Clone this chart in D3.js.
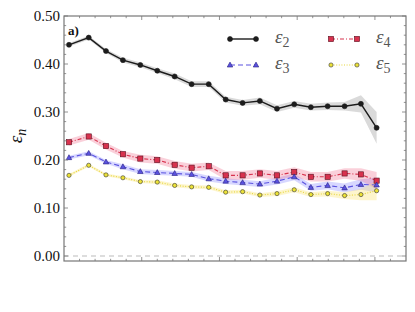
<!DOCTYPE html>
<html>
<head>
<meta charset="utf-8">
<script src="https://cdn.jsdelivr.net/npm/d3@7"></script>
<style>
  body { margin: 0; background: #fff; }
  svg { display: block; }
</style>
</head>
<body>
<div class="Canvas"></div>
<script>
// x positions of the centrality bins (in axis tick units)
const xVals = [0.32, 1.59, 2.70, 3.79, 4.91, 6.0, 7.12, 8.21, 9.31, 10.40, 11.49, 12.60, 13.70, 14.81, 15.88, 16.96, 18.05, 19.10, 20.11];

const eps2 = [0.440, 0.455, 0.427, 0.408, 0.398, 0.386, 0.374, 0.358, 0.358, 0.326, 0.319, 0.323, 0.307, 0.316, 0.310, 0.312, 0.312, 0.317, 0.267];
const eps3 = [0.205, 0.214, 0.196, 0.186, 0.176, 0.174, 0.172, 0.170, 0.161, 0.156, 0.153, 0.150, 0.156, 0.165, 0.143, 0.147, 0.142, 0.149, 0.148];
const eps4 = [0.237, 0.249, 0.229, 0.212, 0.203, 0.200, 0.190, 0.184, 0.187, 0.168, 0.168, 0.172, 0.168, 0.175, 0.165, 0.165, 0.172, 0.170, 0.157];
const eps5 = [0.168, 0.189, 0.169, 0.163, 0.155, 0.154, 0.147, 0.144, 0.143, 0.133, 0.134, 0.127, 0.130, 0.138, 0.128, 0.130, 0.126, 0.128, 0.136];

// uncertainty half-widths for the shaded bands
const err2 = [0.004, 0.004, 0.004, 0.005, 0.005, 0.005, 0.006, 0.006, 0.006, 0.006, 0.006, 0.007, 0.007, 0.007, 0.007, 0.008, 0.009, 0.018, 0.033];
const err3 = [0.004, 0.004, 0.004, 0.005, 0.005, 0.005, 0.005, 0.005, 0.006, 0.006, 0.006, 0.006, 0.007, 0.007, 0.007, 0.008, 0.009, 0.011, 0.015];
const err4 = [0.007, 0.007, 0.007, 0.007, 0.008, 0.008, 0.008, 0.008, 0.008, 0.009, 0.009, 0.009, 0.009, 0.010, 0.010, 0.010, 0.011, 0.013, 0.018];
const err5 = [0.003, 0.003, 0.003, 0.003, 0.003, 0.004, 0.004, 0.004, 0.004, 0.004, 0.004, 0.004, 0.005, 0.005, 0.005, 0.006, 0.007, 0.012, 0.020];

const yTicks = [0.0, 0.1, 0.2, 0.3, 0.4, 0.5];

const width = 415;
const height = 312;
const margin = { left: 64, right: 9, top: 16, bottom: 51 };
const serif = 'Liberation Serif';

const series = [
  { key: '2', values: eps2, err: err2, color: '#1c1c1c', band: 'rgba(150,150,150,0.35)', dash: null, marker: 'circle', fill: '#1c1c1c', width: 1.4 },
  { key: '3', values: eps3, err: err3, color: '#5a52e0', band: 'rgba(110,110,255,0.28)', dash: '5,3', marker: 'triangle', fill: '#5a52e0', width: 1.1 },
  { key: '4', values: eps4, err: err4, color: '#d8324e', band: 'rgba(240,110,140,0.32)', dash: '4,2,1,2', marker: 'square', fill: '#d8324e', width: 1.1 },
  { key: '5', values: eps5, err: err5, color: '#e6d63a', band: 'rgba(250,225,110,0.35)', dash: '1,1.6', marker: 'circle', fill: '#ece236', width: 1.1 },
];

const svg = d3.select('.Canvas').append('svg').attr('width', width).attr('height', height);

const x = d3.scaleLinear().domain([0, 22]).range([margin.left, width - margin.right]);
const y = d3.scaleLinear().domain([-0.0104, 0.5]).range([height - margin.bottom, margin.top]);

// bands
series.forEach((s) => {
  const area = d3
    .area()
    .x((d, i) => x(xVals[i]))
    .y0((d, i) => y(d - s.err[i]))
    .y1((d, i) => y(d + s.err[i]));
  svg.append('path').attr('d', area(s.values)).attr('fill', s.band).attr('stroke', 'none');
});

// zero line
svg
  .append('line')
  .attr('x1', x(0))
  .attr('x2', x(22))
  .attr('y1', y(0))
  .attr('y2', y(0))
  .attr('stroke', '#bbb')
  .attr('stroke-width', 1)
  .attr('stroke-dasharray', '5,4');

const drawMarker = (g, s, cx, cy) => {
  if (s.marker === 'circle') {
    g.append('circle')
      .attr('cx', cx)
      .attr('cy', cy)
      .attr('r', s.key === '2' ? 2.5 : 2.1)
      .attr('fill', s.fill)
      .attr('stroke', s.key === '2' ? s.fill : '#333')
      .attr('stroke-width', 0.6);
  } else if (s.marker === 'square') {
    g.append('rect')
      .attr('x', cx - 2.6)
      .attr('y', cy - 2.6)
      .attr('width', 5.2)
      .attr('height', 5.2)
      .attr('fill', s.fill)
      .attr('stroke', '#5a1020')
      .attr('stroke-width', 0.6);
  } else {
    const r = 2.9;
    g.append('path')
      .attr('d', `M${cx},${cy - r}L${cx + r * 0.95},${cy + r * 0.7}L${cx - r * 0.95},${cy + r * 0.7}Z`)
      .attr('fill', s.fill)
      .attr('stroke', '#2a2280')
      .attr('stroke-width', 0.6);
  }
};

// lines + markers
series
  .slice()
  .reverse()
  .forEach((s) => {
    const line = d3
      .line()
      .x((d, i) => x(xVals[i]))
      .y((d) => y(d));
    svg
      .append('path')
      .attr('d', line(s.values))
      .attr('fill', 'none')
      .attr('stroke', s.color)
      .attr('stroke-width', s.width)
      .attr('stroke-dasharray', s.dash);
    const g = svg.append('g');
    s.values.forEach((v, i) => drawMarker(g, s, x(xVals[i]), y(v)));
  });

// frame
const axisColor = '#777';
svg
  .append('rect')
  .attr('x', x(0))
  .attr('y', y(0.5))
  .attr('width', x(22) - x(0))
  .attr('height', y(-0.0104) - y(0.5))
  .attr('fill', 'none')
  .attr('stroke', axisColor)
  .attr('stroke-width', 1.2);

const ticksG = svg.append('g').attr('stroke', axisColor).attr('stroke-width', 0.8);
const yMinor = d3.range(0, 0.501, 0.02);
yMinor.forEach((v) => {
  const major = yTicks.some((t) => Math.abs(t - v) < 1e-6);
  const len = major ? 4 : 2.2;
  ticksG.append('line').attr('x1', x(0)).attr('x2', x(0) + len).attr('y1', y(v)).attr('y2', y(v));
  ticksG.append('line').attr('x1', x(22)).attr('x2', x(22) - len).attr('y1', y(v)).attr('y2', y(v));
});
d3.range(1, 22).forEach((t) => {
  const len = t % 5 === 0 ? 4 : 2.2;
  ticksG.append('line').attr('x1', x(t)).attr('x2', x(t)).attr('y1', y(-0.0104)).attr('y2', y(-0.0104) - len);
  ticksG.append('line').attr('x1', x(t)).attr('x2', x(t)).attr('y1', y(0.5)).attr('y2', y(0.5) + len);
});

// y tick labels
svg
  .selectAll('text.ytick')
  .data(yTicks)
  .enter()
  .append('text')
  .attr('class', 'ytick')
  .attr('x', x(0) - 4)
  .attr('y', (d) => y(d))
  .attr('dy', '0.35em')
  .attr('text-anchor', 'end')
  .attr('font-family', serif)
  .attr('font-size', '15px')
  .attr('fill', '#111')
  .text((d) => d.toFixed(2));

// y label
const yl = svg
  .append('text')
  .attr('transform', `translate(22,${y(0.25)}) rotate(-90)`)
  .attr('text-anchor', 'middle')
  .attr('font-family', serif)
  .attr('font-size', '19px')
  .attr('font-style', 'italic')
  .attr('fill', '#111');
yl.append('tspan').text('ε');
yl.append('tspan').attr('font-size', '14px').attr('dy', 4).text('n');

// panel label
svg
  .append('text')
  .attr('x', 68)
  .attr('y', 35)
  .attr('font-family', serif)
  .attr('font-size', '13px')
  .attr('font-weight', 'bold')
  .attr('fill', '#111')
  .text('a)');

// legend
const legendPos = [
  { x: 230, y: 39 },
  { x: 230, y: 65 },
  { x: 331, y: 39 },
  { x: 331, y: 65 },
];
series.forEach((s, i) => {
  const p = legendPos[i];
  const g = svg.append('g');
  g.append('line')
    .attr('x1', p.x)
    .attr('x2', p.x + 26)
    .attr('y1', p.y)
    .attr('y2', p.y)
    .attr('stroke', s.color)
    .attr('stroke-width', s.width)
    .attr('stroke-dasharray', s.dash);
  drawMarker(g, s, p.x, p.y);
  drawMarker(g, s, p.x + 26, p.y);
  const t = g
    .append('text')
    .attr('x', p.x + 45)
    .attr('y', p.y + 4)
    .attr('font-family', serif)
    .attr('font-size', '19px')
    .attr('font-style', 'italic')
    .attr('fill', '#555');
  t.append('tspan').text('ε');
  t.append('tspan').attr('font-size', '14px').attr('font-style', 'normal').attr('dy', 4).text(s.key);
});
</script>
</body>
</html>
